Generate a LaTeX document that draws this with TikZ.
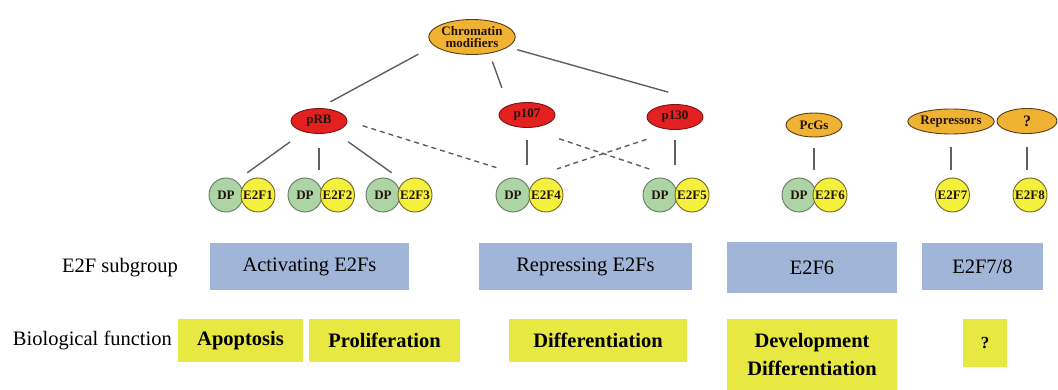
\documentclass[tikz,border=0pt]{standalone}
\usepackage{fontspec}
\setmainfont{Liberation Serif}
\usetikzlibrary{shapes.geometric}
\definecolor{boxblue}{RGB}{160,181,216}
\definecolor{boxyellow}{RGB}{232,232,66}
\definecolor{orfill}{RGB}{240,178,50}
\definecolor{ordraw}{RGB}{90,60,20}
\definecolor{redfill}{RGB}{228,32,32}
\definecolor{reddraw}{RGB}{120,20,20}
\definecolor{dpfill}{RGB}{172,212,164}
\definecolor{dpdraw}{RGB}{100,120,100}
\definecolor{efill}{RGB}{245,240,60}
\definecolor{edraw}{RGB}{110,100,40}
\definecolor{linegray}{RGB}{95,95,95}
\definecolor{textdark}{RGB}{35,20,10}
\begin{document}
\begin{tikzpicture}[x=1pt,y=-1pt,
  small/.style={font=\fontsize{13}{15}\selectfont\bfseries, text=textdark},
  orell/.style={ellipse, draw=ordraw, fill=orfill, line width=0.9pt, inner sep=0pt, small, align=center},
  redell/.style={ellipse, draw=reddraw, fill=redfill, line width=0.9pt, inner sep=0pt, minimum width=56, minimum height=25, small},
  dpc/.style={circle, draw=dpdraw, fill=dpfill, line width=0.9pt, inner sep=0pt, minimum size=34, small},
  ec/.style={circle, draw=edraw, fill=efill, line width=0.9pt, inner sep=0pt, minimum size=34, small},
  conn/.style={draw=linegray, line width=1.4pt},
  dconn/.style={conn, dash pattern=on 5pt off 4pt},
  bluebox/.style={rectangle, fill=boxblue, inner sep=0pt, font=\fontsize{20.5}{24}\selectfont},
  yelbox/.style={rectangle, fill=boxyellow, inner sep=0pt, align=center, font=\fontsize{20.5}{28}\selectfont\bfseries},
  rowlabel/.style={anchor=east, inner sep=0pt, font=\fontsize{20.5}{24}\selectfont}
]
\useasboundingbox (0,0) rectangle (1058,390);

% top level
\node[orell, minimum width=79, minimum height=35] (chrom) at (472,37) {Chromatin\\[-3pt]modifiers};

% pocket proteins and other repressors
\node[redell] (prb) at (319,121) {pRB};
\node[redell] (p107) at (527,115) {p107};
\node[redell] (p130) at (675,117) {p130};
\node[orell, minimum width=56, minimum height=24] (pcg) at (814,125) {PcGs};
\node[orell, minimum width=66, minimum height=25] (rep) at (951,121.5) {Repressors};
\node[orell, minimum width=60, minimum height=25, font=\fontsize{16}{18}\selectfont\bfseries] (unk) at (1027,121) {?};

% dimers
\foreach \i/\xd/\xe in {1/226/258, 2/305/337.5, 3/383/415, 4/513/546, 5/660/692, 6/799/830}{
  \node[dpc] (dp\i) at (\xd,195) {DP};
  \node[ec] (e\i) at (\xe,195) {E2F\i};
}
\node[ec] (e7) at (952.5,195) {E2F7};
\node[ec] (e8) at (1030,195) {E2F8};

% top anchors of the dimers
\coordinate (t1) at (240,178);
\coordinate (t2) at (319,178);
\coordinate (t3) at (399,178);
\coordinate (t4) at (529.5,178);
\coordinate (t5) at (676,178);
\coordinate (t6) at (815,178);

% connectors from chromatin modifiers
\draw[conn, shorten <=36pt, shorten >=13pt] ([xshift=-22pt]chrom.center) -- (prb.north);
\draw[conn, shorten <=7pt, shorten >=15pt] ([xshift=18pt]chrom.south) -- ([xshift=-20pt]p107.north);
\draw[conn, shorten <=47pt, shorten >=7pt] (chrom.center) -- ([yshift=10pt]p130.north);

% connectors to dimers
\draw[conn, shorten <=17pt, shorten >=9pt] (prb) -- (t1);
\draw[conn, shorten <=14pt, shorten >=8pt] (prb.south) -- (t2);
\draw[conn, shorten <=17pt, shorten >=9pt] (prb) -- (t3);
\draw[conn, shorten <=12pt, shorten >=13pt] (p107.south) -- (p107.south |- t4);
\draw[conn, shorten <=10pt, shorten >=13pt] (p130.south) -- (p130.south |- t5);
\draw[conn, shorten <=11pt, shorten >=8pt] (pcg.south) -- (pcg.south |- t6);
\draw[conn, shorten <=13pt, shorten >=8pt] (rep.south) -- (rep.south |- e7.north);
\draw[conn, shorten <=13pt, shorten >=8pt] (unk.south) -- (unk.south |- e8.north);

% dashed cross connectors
\draw[dconn, shorten <=16pt, shorten >=34pt] (prb.east) -- (t4);
\draw[dconn, shorten <=34pt, shorten >=28pt] (p107.south) -- (t5);
\draw[dconn, shorten <=30pt, shorten >=29pt] (p130.south) -- (t4);

% E2F subgroup row
\node[rowlabel] (lsub) at (178,268) {E2F subgroup};
\node[bluebox, minimum width=199, minimum height=47] (act) at (309.5,266.5) {Activating E2Fs};
\node[bluebox, minimum width=213, minimum height=47] (rpr) at (585.5,266.5) {Repressing E2Fs};
\node[bluebox, minimum width=170, minimum height=51] (g6) at (812,267.5) {E2F6};
\node[bluebox, minimum width=121, minimum height=47] (g78) at (982.5,266.5) {E2F7/8};

% biological function row
\node[rowlabel] (lbio) at (172,340) {Biological function};
\node[yelbox, minimum width=125, minimum height=43] (apo) at (240.5,340.5) {Apoptosis};
\node[yelbox, minimum width=151, minimum height=43] (pro) at (384.5,340.5) {Proliferation};
\node[yelbox, minimum width=178, minimum height=43] (dif) at (598,340.5) {Differentiation};
\node[yelbox, minimum width=170, minimum height=71] (dev) at (812,354.5) {Development\\Differentiation};
\node[yelbox, minimum width=44, minimum height=48, font=\fontsize{17}{20}\selectfont\bfseries] (q) at (985,343) {?};
\end{tikzpicture}
\end{document}
